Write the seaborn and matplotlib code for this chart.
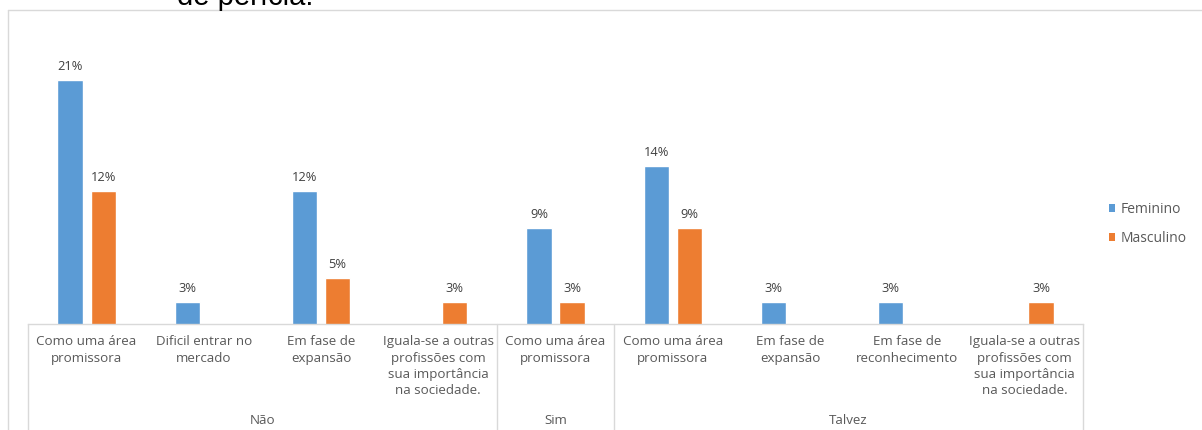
import matplotlib
matplotlib.use("Agg")
import matplotlib.pyplot as plt
import matplotlib.transforms as mtransforms
from matplotlib.lines import Line2D
from matplotlib.patches import Patch
import pandas as pd
import seaborn as sns

# Survey answers: group (Não / Sim / Talvez) -> perception -> share by gender (%)
groups = ["Não", "Não", "Não", "Não", "Sim", "Talvez", "Talvez", "Talvez", "Talvez"]
categories = [
    "Como uma área\npromissora",
    "Dificil entrar no\nmercado",
    "Em fase de\nexpansão",
    "Iguala-se a outras\nprofissões com\nsua importância\nna sociedade.",
    "Como uma área\npromissora",
    "Como uma área\npromissora",
    "Em fase de\nexpansão",
    "Em fase de\nreconhecimento",
    "Iguala-se a outras\nprofissões com\nsua importância\nna sociedade.",
]
feminino = [21, 3, 12, None, 9, 14, 3, 3, None]
masculino = [12, None, 5, 3, 3, 9, None, None, 3]
series = ["Feminino", "Masculino"]
colors = ["#5B9BD5", "#ED7D31"]

keys = [f"{g}|{c}" for g, c in zip(groups, categories)]
rows = []
for k, f, m in zip(keys, feminino, masculino):
    if f is not None:
        rows.append({"item": k, "Gênero": "Feminino", "valor": f})
    if m is not None:
        rows.append({"item": k, "Gênero": "Masculino", "valor": m})
df = pd.DataFrame(rows)

sns.set_theme(style="white")
plt.rcParams["font.family"] = ["Open Sans", "DejaVu Sans"]

W, H = 1202, 430
fig = plt.figure(figsize=(W / 100, H / 100), dpi=100)
ax = fig.add_axes([28 / W, (H - 324) / H, (1083 - 28) / W, (324 - 40) / H])

sns.barplot(
    data=df, x="item", y="valor", hue="Gênero", order=keys,
    hue_order=series, palette=colors, width=0.565, gap=0.24,
    saturation=1, ax=ax, legend=False,
)

text_gray = "#595959"
ax.set_xlim(-0.5, len(keys) - 0.5)
ax.set_ylim(1.25, 24.2)
ax.set_xlabel("")
ax.set_ylabel("")
ax.set_yticks([])
ax.set_xticks(range(len(keys)))
ax.set_xticklabels(categories, fontsize=9.6, color=text_gray, linespacing=1.34)
ax.tick_params(axis="x", length=0, pad=8)
for side in ["top", "right", "left"]:
    ax.spines[side].set_visible(False)
ax.spines["bottom"].set_color("#D9D9D9")
ax.spines["bottom"].set_linewidth(1)

for cont in ax.containers:
    ax.bar_label(cont, labels=[f"{v:.0f}%" for v in cont.datavalues],
                 padding=5, fontsize=9.3, color="#404040")

# group separators and group names under the category labels
trans = mtransforms.blended_transform_factory(ax.transData, ax.transAxes)
for xb in [-0.5, 3.5, 4.5, 8.5]:
    ax.add_line(Line2D([xb, xb], [0, -0.5], transform=trans, color="#D9D9D9",
                       lw=1, clip_on=False))
group_names = ["Não", "Sim", "Talvez"]
group_centers = [1.5, 4.0, 6.5]
for name, xc in zip(group_names, group_centers):
    ax.text(xc, -(421 - 324) / (324 - 40), name, transform=trans, ha="center",
            va="center", fontsize=9.6, color=text_gray)

# chart frame
fig.add_artist(Line2D([8 / W, 8 / W], [0, 1 - 10 / H], transform=fig.transFigure,
                      color="#D9D9D9", lw=1))
fig.add_artist(Line2D([8 / W, 1], [1 - 10 / H, 1 - 10 / H], transform=fig.transFigure,
                      color="#D9D9D9", lw=1))

# tail of the heading above the chart
fig.text(177 / W, 1 - 5 / H, "de perícia.", fontsize=21, color="black",
         family=["Liberation Sans", "DejaVu Sans"], ha="left", va="baseline")

handles = [Patch(facecolor=c, edgecolor="none") for c in colors]
leg = fig.legend(handles, series, loc="center left",
                 bbox_to_anchor=(1096 / W, 1 - 224 / H), frameon=False,
                 fontsize=10, handlelength=0.5, handleheight=0.5,
                 handletextpad=0.35, labelspacing=1.0)
for t in leg.get_texts():
    t.set_color(text_gray)

fig.savefig("out.png", dpi=100)
